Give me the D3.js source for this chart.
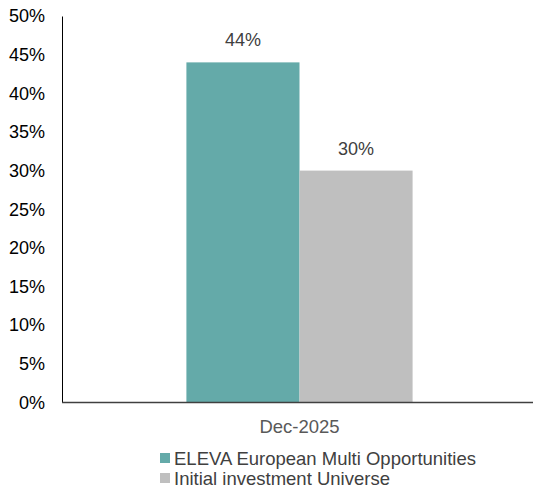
<!DOCTYPE html>
<html><head><meta charset="utf-8">
<script src="https://cdn.jsdelivr.net/npm/d3@7"></script>
<style>body{margin:0;background:#fff}svg{display:block}text{font-family:"Liberation Sans",Arial,sans-serif}</style>
</head><body><svg id="c" width="534" height="488"></svg>
<script>
const categories = ["Dec-2025"];
const seriesNames = ["ELEVA European Multi Opportunities", "Initial investment Universe"];
const seriesValues = [[44], [30]];
const seriesColors = ["#64aaa9", "#bfbfbf"];
const yTicks = [0, 5, 10, 15, 20, 25, 30, 35, 40, 45, 50];

const svg = d3.select("#c");
const y = d3.scaleLinear().domain([0, 50]).range([402.5, 16]);
const x0 = d3.scaleBand().domain(categories).range([62, 537]).paddingInner(0).paddingOuter(0.55);
const x1 = d3.scaleBand().domain(seriesNames).range([0, x0.bandwidth()]);

// bars
categories.forEach((c, ci) => {
  seriesNames.forEach((s, si) => {
    const v = seriesValues[si][ci];
    svg.append("rect")
      .attr("x", x0(c) + x1(s))
      .attr("y", y(v))
      .attr("width", x1.bandwidth())
      .attr("height", y(0) - y(v))
      .attr("fill", seriesColors[si]);
    svg.append("text")
      .attr("x", x0(c) + x1(s) + x1.bandwidth() / 2)
      .attr("y", y(v) - 16)
      .attr("text-anchor", "middle")
      .attr("font-size", 18)
      .attr("fill", "#404040")
      .text(v + "%");
  });
});

// y axis
const yAxis = d3.axisLeft(y).tickValues(yTicks).tickSize(0).tickPadding(17).tickFormat(d => d + "%");
const gy = svg.append("g").attr("transform", "translate(62,0)").call(yAxis);
gy.select(".domain").attr("stroke", "#000").attr("stroke-width", 1);
gy.selectAll("text").attr("font-size", 18).attr("fill", "#000").attr("font-family", '"Liberation Sans",Arial,sans-serif');

// x axis
const xAxis = d3.axisBottom(x0).tickSize(0).tickPadding(17);
const gx = svg.append("g").attr("transform", "translate(0,402.5)").call(xAxis);
gx.select(".domain").attr("d", "M62,0H533").attr("stroke", "#404040").attr("stroke-width", 1.5);
gx.selectAll("text").attr("font-size", 18.5).attr("fill", "#595959").attr("font-family", '"Liberation Sans",Arial,sans-serif');

// legend
const lg = svg.append("g");
seriesNames.forEach((s, i) => {
  const yy = 458 + i * 20;
  lg.append("rect").attr("x", 160).attr("y", yy - 5).attr("width", 10).attr("height", 10).attr("fill", seriesColors[i]);
  lg.append("text").attr("x", 174).attr("y", yy + 6.5).attr("font-size", 18.5).attr("fill", "#404040").text(s);
});
</script></body></html>
